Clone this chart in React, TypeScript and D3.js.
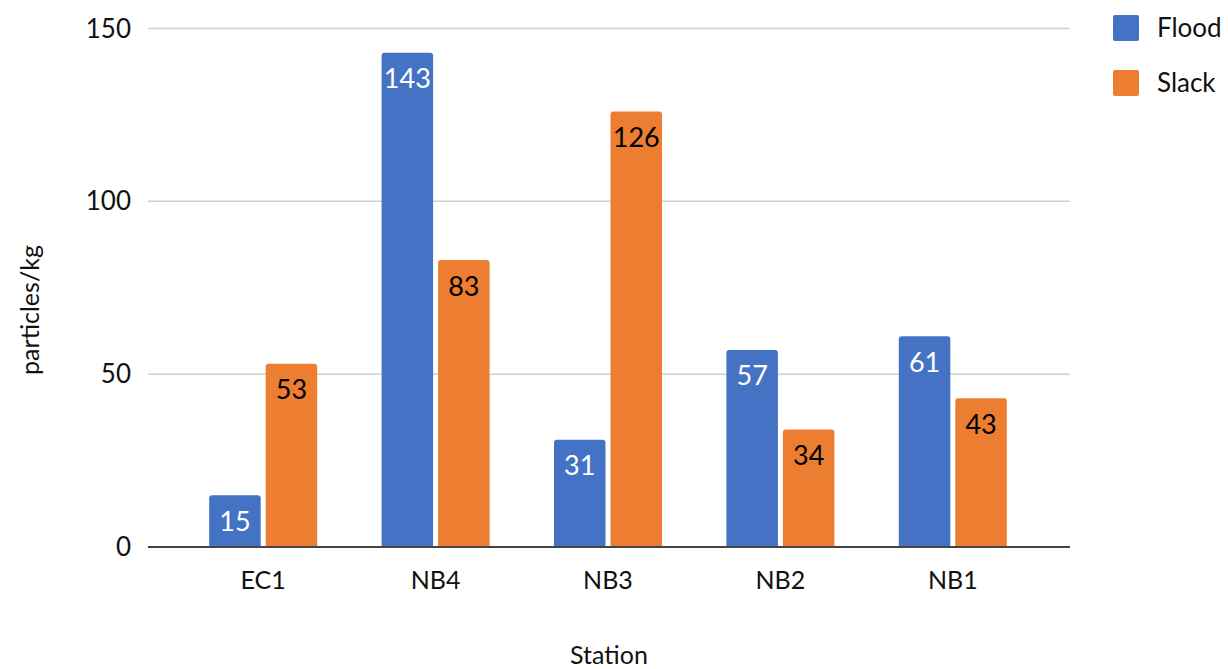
import React, { useEffect, useRef } from 'react';
import * as d3 from 'd3';

const stations = ['EC1', 'NB4', 'NB3', 'NB2', 'NB1'];
const flood = [15, 143, 31, 57, 61];
const slack = [53, 83, 126, 34, 43];
const yTicks = [0, 50, 100, 150];

const seriesNames = ['Flood', 'Slack'];
const colors = ['#4472C4', '#ED7D31'];
const labelColors = ['#ffffff', '#000000'];

const FONT = 'Lato, "Open Sans", sans-serif';

export default function App() {
  const svgRef = useRef<SVGSVGElement>(null);
  const width = 1228;
  const height = 669;

  useEffect(() => {
    const svg = d3.select(svgRef.current);
    svg.selectAll('*').remove();

    const axisLeft = 148;
    const axisRight = 1070;
    const x = d3.scaleBand<string>().domain(stations).range([177, 1039]).paddingInner(0).paddingOuter(0);
    const y = d3.scaleLinear().domain([0, 150]).range([547, 28.5]);
    const inner = d3.scaleBand<string>().domain(seriesNames).range([0, x.bandwidth()]).paddingInner(0.088).paddingOuter(0.57);

    // grid
    svg.append('g')
      .selectAll('line')
      .data(yTicks.filter(t => t > 0))
      .enter()
      .append('line')
      .attr('x1', axisLeft)
      .attr('x2', axisRight)
      .attr('y1', d => y(d))
      .attr('y2', d => y(d))
      .style('stroke', '#d0d0d0')
      .style('stroke-width', 1.5);

    // y tick labels
    svg.append('g')
      .selectAll('text')
      .data(yTicks)
      .enter()
      .append('text')
      .attr('x', 131)
      .attr('y', d => y(d))
      .attr('dy', '0.35em')
      .attr('text-anchor', 'end')
      .style('font-family', FONT)
      .style('font-size', '26px')
      .style('fill', '#111')
      .text(d => d);

    const series = [flood, slack];

    // bars with rounded tops
    series.forEach((vals, si) => {
      const bw = inner.bandwidth();
      const r = 3;
      svg.append('g')
        .selectAll('path')
        .data(vals)
        .enter()
        .append('path')
        .attr('d', (v, i) => {
          const x0 = (x(stations[i]) as number) + (inner(seriesNames[si]) as number);
          const x1 = x0 + bw;
          const y0 = y(0);
          const yt = y(v);
          return `M${x0},${y0}V${yt + r}Q${x0},${yt} ${x0 + r},${yt}H${x1 - r}Q${x1},${yt} ${x1},${yt + r}V${y0}Z`;
        })
        .style('fill', colors[si]);

      svg.append('g')
        .selectAll('text')
        .data(vals)
        .enter()
        .append('text')
        .attr('x', (v, i) => (x(stations[i]) as number) + (inner(seriesNames[si]) as number) + bw / 2)
        .attr('y', v => y(v) + 26)
        .attr('dy', '0.35em')
        .attr('text-anchor', 'middle')
        .style('font-family', FONT)
        .style('font-size', '27px')
        .style('fill', labelColors[si])
        .text(v => v);
    });

    // baseline
    svg.append('line')
      .attr('x1', axisLeft)
      .attr('x2', axisRight)
      .attr('y1', y(0))
      .attr('y2', y(0))
      .style('stroke', '#444')
      .style('stroke-width', 2);

    // x labels
    svg.append('g')
      .selectAll('text')
      .data(stations)
      .enter()
      .append('text')
      .attr('x', d => (x(d) as number) + x.bandwidth() / 2)
      .attr('y', 580)
      .attr('dy', '0.35em')
      .attr('text-anchor', 'middle')
      .style('font-family', FONT)
      .style('font-size', '25px')
      .style('fill', '#111')
      .text(d => d);

    // axis titles
    svg.append('text')
      .attr('x', 609)
      .attr('y', 655)
      .attr('dy', '0.35em')
      .attr('text-anchor', 'middle')
      .style('font-family', FONT)
      .style('font-size', '25px')
      .style('fill', '#111')
      .text('Station');

    svg.append('text')
      .attr('transform', 'translate(30,310) rotate(-90)')
      .attr('dy', '0.35em')
      .attr('text-anchor', 'middle')
      .style('font-family', FONT)
      .style('font-size', '25px')
      .style('fill', '#111')
      .text('particles/kg');

    // legend
    const legend = svg.append('g').attr('transform', 'translate(1113,15)');
    seriesNames.forEach((name, i) => {
      const item = legend.append('g').attr('transform', `translate(0,${i * 55})`);
      item.append('rect')
        .attr('width', 26)
        .attr('height', 26)
        .attr('rx', 2)
        .style('fill', colors[i]);
      item.append('text')
        .attr('x', 44)
        .attr('y', 13)
        .attr('dy', '0.35em')
        .style('font-family', FONT)
        .style('font-size', '26px')
        .style('fill', '#111')
        .text(name);
    });
  }, []);

  return (
    <svg
      ref={svgRef}
      width={width}
      height={height}
      style={{ position: 'absolute', left: 0, top: 0, background: '#fff' }}
    />
  );
}
